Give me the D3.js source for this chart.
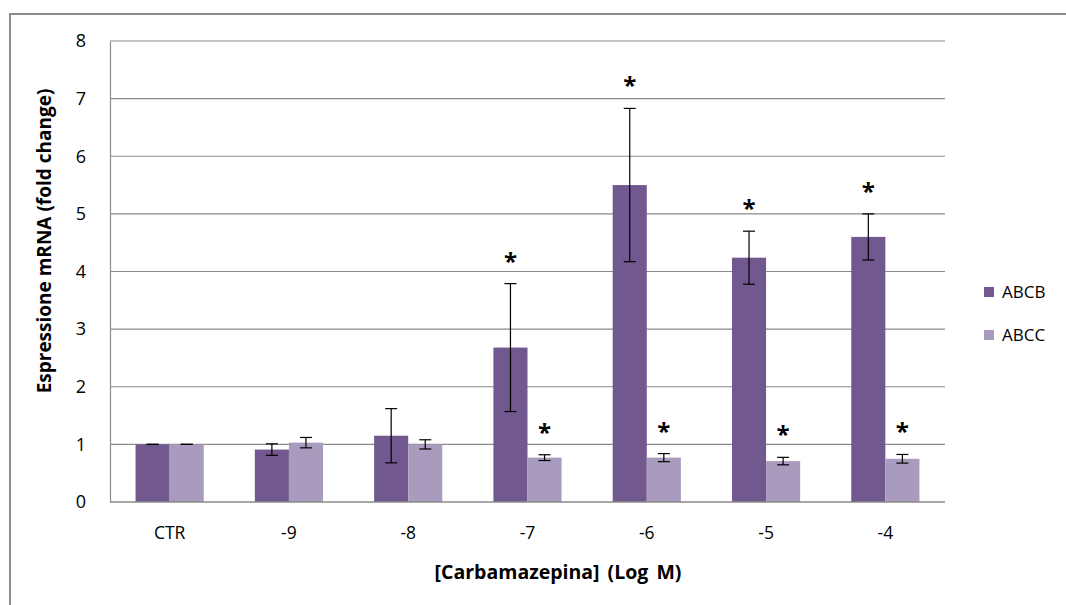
<!DOCTYPE html>
<html>
<head>
<meta charset="utf-8">
<script src="https://cdn.jsdelivr.net/npm/d3@7"></script>
<style>
  html, body { margin: 0; padding: 0; background: #fff; }
  svg { display: block; }
  text { font-family: "Open Sans", "Liberation Sans", sans-serif; }
</style>
</head>
<body>
<svg id="chart" width="1066" height="605"></svg>
<script>
// Dose groups on the x axis
const categories = ["CTR", "-9", "-8", "-7", "-6", "-5", "-4"];
const seriesNames = ["ABCB", "ABCC"];

// Fold change of mRNA expression (means) and error (±)
const abcbValues = [1.00, 0.91, 1.15, 2.68, 5.50, 4.24, 4.60];
const abcbErrors = [0.00, 0.10, 0.47, 1.11, 1.33, 0.46, 0.40];
const abccValues = [1.00, 1.03, 1.00, 0.77, 0.77, 0.71, 0.75];
const abccErrors = [0.00, 0.09, 0.08, 0.05, 0.07, 0.065, 0.075];

// Significance markers (true = significant vs CTR)
const abcbSignif = [false, false, false, true, true, true, true];
const abccSignif = [false, false, false, true, true, true, true];

const yTicks = [0, 1, 2, 3, 4, 5, 6, 7, 8];
const colors = ["#71588f", "#a99bbd"];

const svg = d3.select("#chart");

// Outer chart frame
svg.append("rect")
  .attr("x", 10).attr("y", 14)
  .attr("width", 1070).attr("height", 600)
  .attr("fill", "none").attr("stroke", "#8c8c8c").attr("stroke-width", 2);

const plot = { left: 110, right: 945, top: 41, bottom: 502 };

const x0 = d3.scaleBand().domain(categories)
  .range([plot.left, plot.right]).paddingInner(1.5 / 3.5).paddingOuter(0.75 / 3.5);
const x1 = d3.scaleBand().domain(seriesNames).range([0, x0.bandwidth()]);
const y = d3.scaleLinear().domain([0, 8]).range([plot.bottom, plot.top]);

// Horizontal gridlines
svg.append("g").selectAll("line").data(yTicks.filter(t => t > 0)).join("line")
  .attr("x1", plot.left).attr("x2", plot.right)
  .attr("y1", d => y(d)).attr("y2", d => y(d))
  .attr("stroke", "#8a8a8a").attr("stroke-width", 1.2);

// Y axis
const yAxis = svg.append("g").attr("transform", `translate(${plot.left},0)`)
  .call(d3.axisLeft(y).tickValues(yTicks).tickSize(0).tickPadding(24).tickFormat(d3.format("d")));
yAxis.select(".domain").attr("stroke", "#8a8a8a").attr("stroke-width", 1.2);
yAxis.selectAll("text").attr("font-size", 18).attr("fill", "#000");

const groups = categories.map((c, i) => ({
  cat: c,
  bars: [
    { s: "ABCB", v: abcbValues[i], e: abcbErrors[i], sig: abcbSignif[i], c: colors[0] },
    { s: "ABCC", v: abccValues[i], e: abccErrors[i], sig: abccSignif[i], c: colors[1] }
  ]
}));

const g = svg.append("g").selectAll("g").data(groups).join("g")
  .attr("transform", d => `translate(${x0(d.cat)},0)`);

// Bars
g.selectAll("rect").data(d => d.bars).join("rect")
  .attr("x", d => x1(d.s)).attr("width", x1.bandwidth())
  .attr("y", d => y(d.v)).attr("height", d => y(0) - y(d.v))
  .attr("fill", d => d.c);

// Error bars
const eb = g.selectAll("g.err").data(d => d.bars).join("g").attr("class", "err")
  .attr("transform", d => `translate(${x1(d.s) + x1.bandwidth() / 2},0)`);
eb.append("line").attr("x1", 0).attr("x2", 0)
  .attr("y1", d => y(d.v + d.e)).attr("y2", d => y(d.v - d.e))
  .attr("stroke", "#000").attr("stroke-width", 1.2);
eb.selectAll("line.cap").data(d => [d.v + d.e, d.v - d.e]).join("line").attr("class", "cap")
  .attr("x1", -6).attr("x2", 6)
  .attr("y1", d => y(d)).attr("y2", d => y(d))
  .attr("stroke", "#000").attr("stroke-width", 1.2);

// Significance asterisks
g.selectAll("text.sig").data(d => d.bars.filter(b => b.sig)).join("text").attr("class", "sig")
  .attr("x", d => x1(d.s) + x1.bandwidth() / 2)
  .attr("y", d => y(d.v + d.e) - 14)
  .attr("text-anchor", "middle")
  .attr("font-size", 24).attr("font-weight", "bold")
  .attr("font-family", "'Liberation Sans', sans-serif")
  .text("*");

// X axis baseline
svg.append("line")
  .attr("x1", plot.left).attr("x2", plot.right)
  .attr("y1", y(0)).attr("y2", y(0))
  .attr("stroke", "#8a8a8a").attr("stroke-width", 1.5);

// X tick labels
svg.append("g").selectAll("text").data(categories).join("text")
  .attr("x", d => x0(d) + x0.bandwidth() / 2)
  .attr("y", 539)
  .attr("text-anchor", "middle")
  .attr("font-size", 17.5)
  .text(d => d);

// Axis titles
svg.append("text")
  .attr("x", 558).attr("y", 579)
  .attr("text-anchor", "middle")
  .attr("font-size", 19.5).attr("font-weight", "bold")
  .attr("word-spacing", 3)
  .text("[Carbamazepina] (Log M)");

svg.append("text")
  .attr("transform", "translate(51,241) rotate(-90)")
  .attr("text-anchor", "middle")
  .attr("font-size", 19).attr("font-weight", "bold")
  .text("Espressione mRNA (fold change)");

// Legend
const leg = svg.append("g").selectAll("g").data(seriesNames).join("g")
  .attr("transform", (d, i) => `translate(984,${292 + i * 43})`);
leg.append("rect").attr("x", 0).attr("y", -5).attr("width", 10).attr("height", 10)
  .attr("fill", (d, i) => colors[i]);
leg.append("text").attr("x", 18).attr("y", 6)
  .attr("font-size", 17).text(d => d);
</script>
</body>
</html>
